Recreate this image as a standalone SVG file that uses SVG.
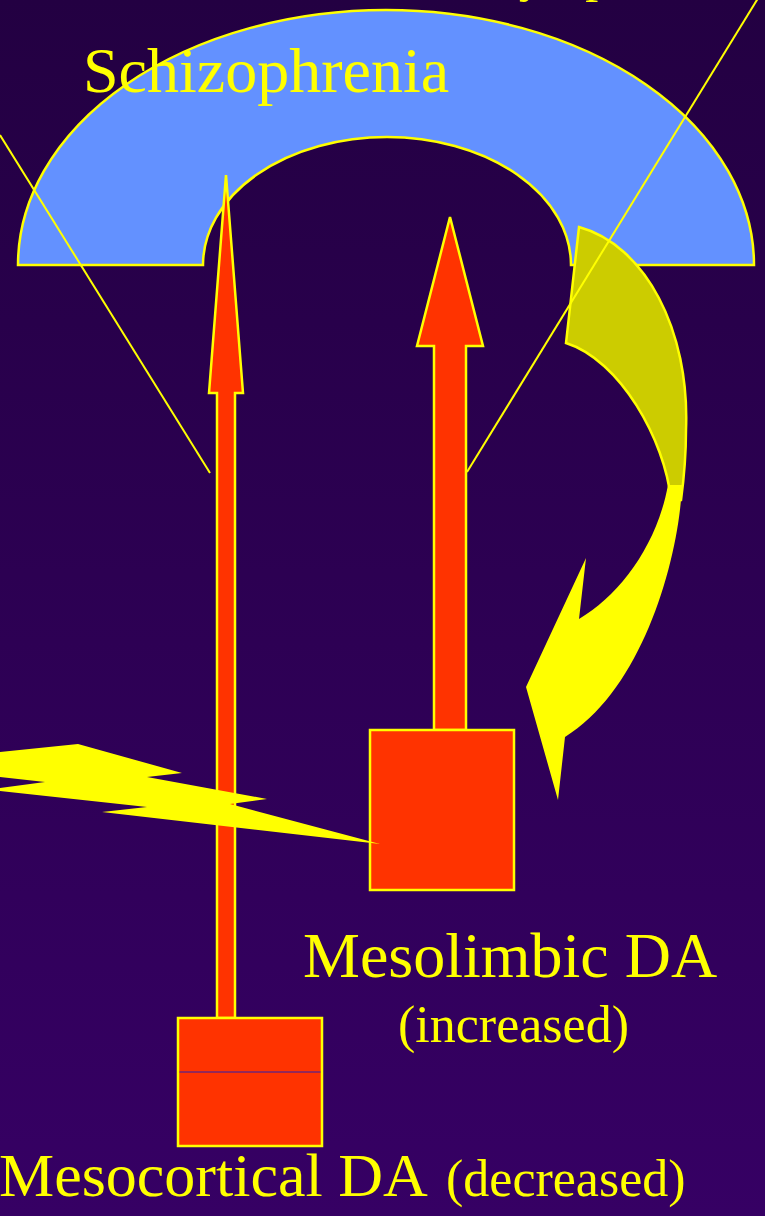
<svg xmlns="http://www.w3.org/2000/svg" width="765" height="1216" viewBox="0 0 765 1216">
<defs>
<linearGradient id="bg" x1="0" y1="0" x2="0" y2="1">
<stop offset="0" stop-color="#230042"/>
<stop offset="1" stop-color="#360064"/>
</linearGradient>
</defs>
<style>
.ys{stroke:#FFFF00;stroke-width:2.5;stroke-linejoin:miter}
.red{fill:#FF3300}
.ln{stroke:#FFFF00;stroke-width:2;fill:none}
.t{font-family:"Liberation Serif","Times New Roman",serif;fill:#FFFF00}
</style>
<rect x="0" y="0" width="765" height="1216" fill="url(#bg)"/>
<g id="title-top">
<text class="t" x="318" y="-9" font-size="52">Positive symptoms</text>
</g>
<g id="schizophrenia-arc">
<path class="ys" fill="#6391FF" stroke-width="2" d="M18,265 A368,255 0 0 1 754,265 L571,265 A184,128 0 0 0 203,265 Z"/>
</g>
<g id="olive-band">
<path class="ys" fill="#CCCC00" d="M579,227 C645,245 690,330 686,430 C686,455 684,478 681,500 L671,500 C665,440 620,360 566,343 Z"/>
</g>
<g id="connectors">
<line class="ln" x1="0" y1="135" x2="210" y2="473"/>
<line class="ln" x1="467" y1="472" x2="760" y2="-5"/>
<polygon class="ys red" points="226,175 243,393 235,393 235,1018 217,1018 217,393 209,393"/>
<polygon class="ys red" points="450,217 483,346 466,346 466,730 434,730 434,346 417,346"/>
</g>
<g id="mesolimbic-box">
<rect class="ys red" x="370" y="730" width="144" height="160"/>
</g>
<g id="mesocortical-box">
<rect class="ys red" x="178" y="1018" width="144" height="128"/>
<line x1="179.5" y1="1072" x2="320.5" y2="1072" stroke="#2A1FB0" stroke-width="1"/>
</g>
<g id="curved-arrow">
<path fill="#FFFF00" d="M668,485 L682,485 C679,560 642,690 565,737 L558,800 L526,687 L586,558 L579,619 C620,595 657,545 668,485 Z"/>
</g>
<g id="lightning">
<polygon fill="#FFFF00" points="0,752 78,744 182,773 147,777 267,799 230,804 380,844 102,812 147,807 0,791 0,788 45,782 0,777"/>
</g>
<g id="label-schizophrenia">
<text class="t" x="83" y="92" font-size="64">Schizophrenia</text>
</g>
<g id="label-mesolimbic">
<text class="t" x="303" y="977" font-size="64">Mesolimbic DA</text>
<text class="t" x="398" y="1042" font-size="52">(increased)</text>
</g>
<g id="label-mesocortical">
<text class="t" x="-1" y="1196" font-size="62">Mesocortical DA <tspan x="446" font-size="52">(decreased)</tspan></text>
</g>
</svg>
